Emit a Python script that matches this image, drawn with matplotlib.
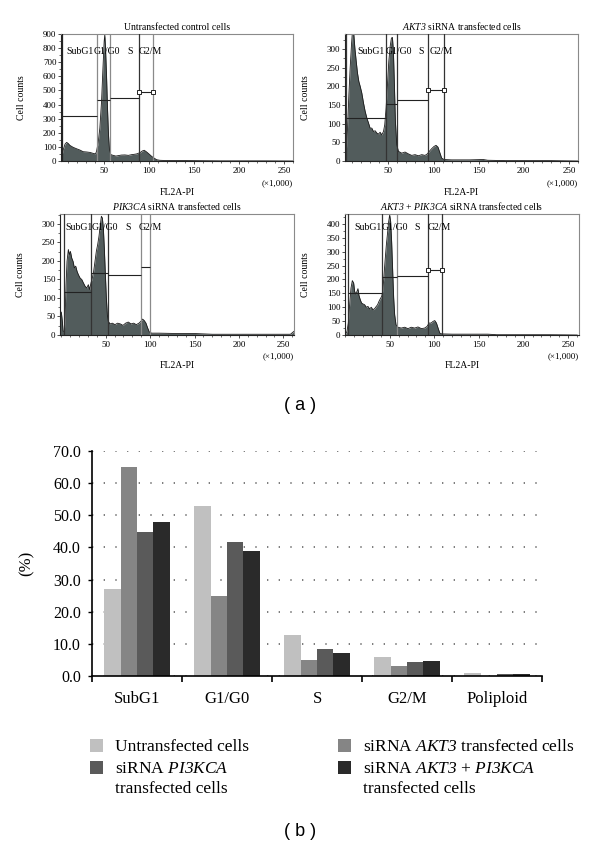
import matplotlib
matplotlib.use('Agg')
import matplotlib.pyplot as plt
import numpy as np
from matplotlib.patches import Rectangle
from matplotlib.ticker import MultipleLocator, FormatStrFormatter, FixedLocator
from matplotlib.transforms import blended_transform_factory

plt.rcParams['font.family'] = ['Liberation Serif', 'DejaVu Serif']
plt.rcParams['mathtext.fontset'] = 'custom'
plt.rcParams['mathtext.rm'] = 'Liberation Serif'
plt.rcParams['mathtext.it'] = 'Liberation Serif:italic'
# \mathsf is used for fully italic gene names (digits included)
plt.rcParams['mathtext.sf'] = 'Liberation Serif:italic'

# ---------------- data: flow cytometry histograms (FL2A-PI x1000, cell counts) ----------------
ctrl_x = [2, 3, 4.5, 6.5, 8.3, 10.2, 11.8, 15.5, 19.2, 22.9, 26.6, 30.4, 34.1, 37.8, 40.4, 41.5,
          43.3, 45.2, 47.1, 48.5, 50, 50.7, 51.5, 52.6, 53.7, 54.8, 55.9, 57.4, 60, 63, 65.6, 69,
          73, 77, 80.5, 83, 86, 89.8, 92.4, 94.6, 97.2, 99.8, 102.8, 105.4, 108.4, 112, 120, 140,
          160, 180, 200, 230, 260]
ctrl_counts = [5, 33, 80, 120, 132, 123, 111, 97, 87, 78, 66, 64, 61, 54, 50, 69,
               128, 234, 423, 636, 849, 896, 800, 612, 376, 187, 80, 45, 40, 35, 38, 42,
               43, 40, 45, 47, 50, 59, 71, 76, 64, 50, 33, 21, 9, 5, 3, 3,
               2, 1, 1, 1, 0]

akt3_x = [2.5, 3.3, 4.8, 6.3, 7.7, 9.2, 10.3, 11.4, 12.9, 14.4, 15.8, 17.3, 18.8, 20.6, 22.5,
          24.3, 26.2, 28, 29.8, 31.7, 33.5, 35.4, 37.2, 39, 40.9, 42.7, 44.6, 46, 47.5, 49,
          50.5, 52, 53.4, 54.5, 55.6, 56.7, 57.8, 59.3, 61.1, 64.8, 68.5, 72.2, 75.9, 79.6,
          83.2, 87, 90.6, 93.2, 95.4, 98, 100.6, 102.8, 105, 107.2, 109, 111.6, 120, 140, 155,
          160, 180, 200, 230, 260]
akt3_counts = [0, 17, 88, 178, 249, 312, 350, 350, 303, 267, 236, 213, 200, 182, 155,
               133, 115, 102, 88, 88, 79, 81, 75, 72, 77, 70, 79, 97, 142, 204,
               267, 307, 329, 331, 294, 204, 106, 44, 26, 21, 24, 19, 15, 17,
               14, 17, 15, 19, 26, 33, 39, 42, 37, 21, 8, 4, 3, 3, 4,
               2, 1, 1, 1, 0]

pik3ca_x = [-1.5, 0, 1, 2, 3.4, 4.2, 5.3, 6.4, 7.9, 9.0, 10.2, 11.7, 13.2, 14.7, 16.2, 17.7,
            19.2, 21.1, 23.0, 24.8, 26.7, 28.6, 30.4, 31.9, 33.4, 34.9, 36.4, 37.9, 39.4, 40.9,
            42.4, 43.9, 45.1, 46.2, 47.3, 48.4, 49.6, 50.7, 51.8, 52.9, 54.8, 57.4, 60.4, 63.4,
            66.4, 69.4, 72.4, 75.4, 78.4, 81.4, 84.4, 87.4, 89.6, 91.5, 93.4, 95.3, 97.2, 99.1,
            101.7, 110, 130, 150, 170, 200, 230, 250, 258, 262]
pik3ca_counts = [60, 62, 40, 10, 10, 46, 136, 199, 231, 217, 226, 208, 199, 181, 186, 172,
                 163, 154, 150, 141, 132, 127, 136, 123, 141, 154, 172, 199, 226, 244,
                 267, 298, 321, 316, 289, 235, 163, 100, 55, 37, 30, 32, 28, 32,
                 30, 26, 32, 35, 30, 32, 28, 32, 37, 43, 39, 32, 19, 8,
                 5, 5, 4, 4, 2, 2, 2, 2, 2, 10]

combo_x = [0.7, 2.2, 3.7, 5.2, 6.7, 8.2, 9.7, 10.8, 11.9, 13.4, 14.5, 15.6, 17.1, 18.6, 20.1,
           22.0, 23.8, 25.7, 27.6, 29.4, 31.3, 33.2, 35.0, 36.5, 38.0, 39.6, 41.1, 42.2, 43.3,
           44.8, 46.3, 47.8, 48.9, 50.0, 51.1, 52.2, 53.4, 54.5, 55.6, 57.1, 59.3, 63.0, 66.8,
           70.5, 74.2, 78.0, 81.7, 85.5, 89.2, 91.9, 94.1, 96.4, 98.6, 100.5, 102.4, 104.2,
           106.1, 108.3, 120, 140, 160, 170, 200, 230, 260]
combo_counts = [4, 13, 43, 109, 169, 196, 187, 157, 148, 157, 167, 143, 127, 115, 112,
                109, 100, 103, 94, 100, 91, 95, 103, 109, 121, 131, 139, 157, 199,
                265, 325, 373, 409, 433, 409, 337, 229, 133, 73, 37, 28, 25, 28,
                23, 28, 25, 29, 23, 25, 31, 43, 43, 49, 52, 43, 25,
                7, 4, 3, 3, 3, 1, 1, 1, 0]

# gate boundaries (x1000) and gate marker heights (counts): SubG1, G1/G0, S, G2/M
gate_names = ['SubG1', 'G1/G0', 'S', 'G2/M']
ctrl_gates = [3.6, 41.5, 57, 88.5, 104]
ctrl_gate_heights = [316, 429, 443, 490]
akt3_gates = [3.3, 47.2, 59.3, 94.3, 111.6]
akt3_gate_heights = [114, 153, 164, 189]
pik3ca_gates = [3.4, 33.1, 52.3, 89.4, 99.5]
pik3ca_gate_heights = [116, 167, 162, 185]
combo_gates = [3.3, 41.4, 58.7, 92.4, 108.8]
combo_gate_heights = [152, 210, 214, 235]

# ---------------- data: bar chart (%) ----------------
phases = ['SubG1', 'G1/G0', 'S', 'G2/M', 'Poliploid']
untransfected = [27.0, 52.9, 12.8, 5.8, 1.0]
si_akt3 = [64.9, 24.9, 4.9, 3.0, 0.1]
si_pi3kca = [44.9, 41.8, 8.4, 4.3, 0.7]
si_akt3_pi3kca = [48.0, 38.9, 7.3, 4.8, 0.7]

# ---------------- layout ----------------
W, H = 600, 848
fig = plt.figure(figsize=(W / 100, H / 100), dpi=100)


def axes_px(l, t, r, b):
    return fig.add_axes([l / W, 1 - b / H, (r - l) / W, (b - t) / H])


FILL = '#525c5c'
panels = [
    dict(x=ctrl_x, y=ctrl_counts, gates=ctrl_gates, gh=ctrl_gate_heights, box=(61, 34, 293, 161),
         ymax=900, ystep=100, xlim=(2, 260), markers=True,
         title='Untransfected control cells',
         lab_x=[8.4, 38.8, 75.6, 88.2], lab_y=0.866,
         lc=['#222222', '#8a8a8a', '#8a8a8a', '#333333', '#8a8a8a']),
    dict(x=akt3_x, y=akt3_counts, gates=akt3_gates, gh=akt3_gate_heights, box=(345, 34, 578, 161),
         ymax=340, ystep=50, xlim=(2, 260), markers=True,
         title=r'$\mathsf{AKT3}$ siRNA transfected cells',
         lab_x=[16.2, 46.8, 83, 95.4], lab_y=0.861,
         lc=['#333333'] * 5),
    dict(x=pik3ca_x, y=pik3ca_counts, gates=pik3ca_gates, gh=pik3ca_gate_heights, box=(60, 214, 294, 335),
         ymax=327, ystep=50, xlim=(-1.5, 262), markers=False,
         title=r'$\mathsf{PIK3CA}$ siRNA transfected cells',
         lab_x=[4.0, 34.6, 71.7, 87.4], lab_y=0.89,
         lc=['#333333', '#333333', '#333333', '#8a8a8a', '#8a8a8a']),
    dict(x=combo_x, y=combo_counts, gates=combo_gates, gh=combo_gate_heights, box=(345, 214, 579, 335),
         ymax=436, ystep=50, xlim=(0, 262), markers=True,
         title=r'$\mathsf{AKT3}$ + $\mathsf{PIK3CA}$ siRNA transfected cells',
         lab_x=[10.0, 41.4, 77.3, 92.4], lab_y=0.89,
         lc=['#333333', '#333333', '#8a8a8a', '#333333', '#333333']),
]

for p in panels:
    ax = axes_px(*p['box'])
    ax.fill_between(p['x'], p['y'], 0, color=FILL, lw=0, zorder=1)
    ax.plot(p['x'], p['y'], color='#1a1a1a', lw=0.6, zorder=2)
    ax.set_xlim(*p['xlim'])
    ax.set_ylim(0, p['ymax'])
    g = p['gates']
    for gx, c in zip(g, p['lc']):
        ax.axvline(gx, color=c, lw=0.9, zorder=3)
    for i in range(4):
        ax.hlines(p['gh'][i], g[i], g[i + 1], color='#222222', lw=0.8, zorder=4)
    if p['markers']:
        ax.plot([g[3], g[4]], [p['gh'][3]] * 2, ls='none', marker='s', ms=3.3,
                mfc='white', mec='#222222', mew=0.7, zorder=5)
    tr = blended_transform_factory(ax.transData, ax.transAxes)
    for lx, name in zip(p['lab_x'], gate_names):
        ax.text(lx, p['lab_y'], name, transform=tr, fontsize=7, ha='left', va='center', zorder=6)
    ax.set_title(p['title'], fontsize=7, pad=3)
    ax.xaxis.set_major_locator(FixedLocator([50, 100, 150, 200, 250]))
    ax.xaxis.set_minor_locator(MultipleLocator(10))
    ax.yaxis.set_major_locator(MultipleLocator(p['ystep']))
    ax.yaxis.set_minor_locator(MultipleLocator(p['ystep'] / 2))
    ax.tick_params(which='major', length=2.5, width=0.6, labelsize=6.5, pad=1.5, color='#333333')
    ax.tick_params(which='minor', length=1.5, width=0.5, color='#333333')
    ax.tick_params(axis='y', pad=0.8)
    for s in ['left', 'bottom']:
        ax.spines[s].set_linewidth(0.8)
        ax.spines[s].set_color('#222222')
    for s in ['top', 'right']:
        ax.spines[s].set_linewidth(0.8)
        ax.spines[s].set_color('#8a8a8a')
    ax.set_ylabel('Cell counts', fontsize=7)
    ax.yaxis.set_label_coords(-0.15, 0.5)
    ax.set_xlabel('FL2A-PI', fontsize=7)
    ax.xaxis.set_label_coords(0.5, -0.215)
    ax.text(1.0, -0.175, '(×1,000)', transform=ax.transAxes, fontsize=6.5, ha='right', va='center')

fig.text(0.5, 1 - 405 / H, '( a )', ha='center', va='center', fontsize=13, family='Liberation Sans')

# ---------------- bar chart ----------------
axb = axes_px(92, 451, 542, 676)
series = [untransfected, si_akt3, si_pi3kca, si_akt3_pi3kca]
colors = ['#c0c0c0', '#858585', '#5a5a5a', '#2a2a2a']
names = [['Untransfected cells'],
         [r'siRNA $\mathsf{AKT3}$ transfected cells'],
         [r'siRNA $\mathsf{PI3KCA}$', 'transfected cells'],
         [r'siRNA $\mathsf{AKT3}$ + $\mathsf{PI3KCA}$', 'transfected cells']]
pos = np.arange(len(phases))
bw = 0.182
for i, (vals, col) in enumerate(zip(series, colors)):
    axb.bar(pos + (i - 1.5) * bw, vals, bw, color=col, lw=0, zorder=2)
axb.set_xlim(-0.5, len(phases) - 0.5)
axb.set_ylim(0, 70)
axb.set_axisbelow(True)
axb.yaxis.set_major_locator(MultipleLocator(10))
axb.yaxis.set_major_formatter(FormatStrFormatter('%.1f'))
axb.yaxis.grid(True, linestyle=(0, (0.8, 6.2)), color='#666666', lw=1.2)
axb.set_xticks(pos)
axb.set_xticklabels(phases, fontsize=12)
axb.set_xticks(np.arange(-0.5, len(phases), 1), minor=True)
axb.tick_params(axis='x', which='major', length=0, pad=11)
axb.tick_params(axis='x', which='minor', length=4, width=1.2)
axb.tick_params(axis='y', length=3, width=1, labelsize=11.5, pad=5)
for s in ['top', 'right']:
    axb.spines[s].set_visible(False)
for s in ['left', 'bottom']:
    axb.spines[s].set_linewidth(1.2)
axb.set_ylabel('(%)', fontsize=12)
axb.yaxis.set_label_coords(-0.127, 0.5)

# legend (manual, two columns)
leg_rows = [(90, 739, 115, 751), (338, 739, 363, 751), (90, 761, 115, 773), (338, 761, 363, 773)]
line_step = 20
for (sx, sy, tx, ty), col, lines in zip(leg_rows, colors, names):
    fig.add_artist(Rectangle((sx / W, 1 - (sy + 13) / H), 13 / W, 13 / H,
                             transform=fig.transFigure, facecolor=col, edgecolor='none'))
    for k, line in enumerate(lines):
        fig.text(tx / W, 1 - (ty + k * line_step) / H, line, fontsize=12.5,
                 va='baseline', ha='left')

fig.text(0.5, 1 - 832 / H, '( b )', ha='center', va='center', fontsize=13, family='Liberation Sans')

fig.savefig('out.png', dpi=100)
